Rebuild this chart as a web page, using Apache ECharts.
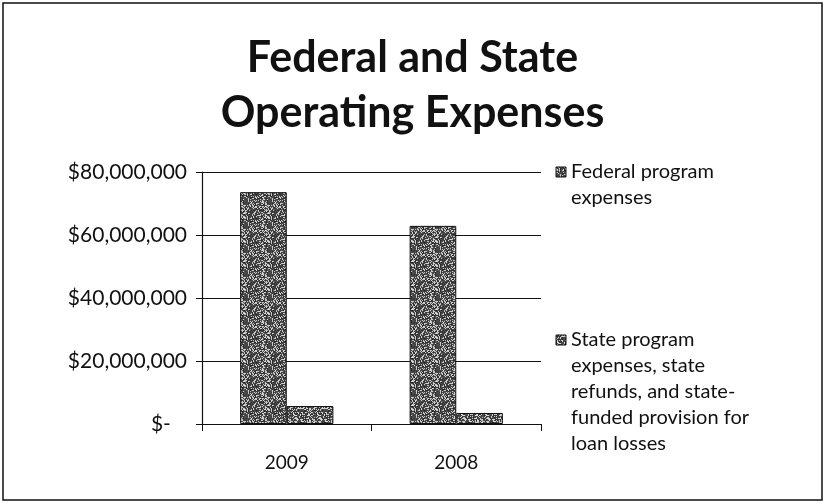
<!DOCTYPE html>
<html>
<head>
<meta charset="utf-8">
<script src="https://cdn.jsdelivr.net/npm/echarts@6/dist/echarts.min.js"></script>
<style>
  html, body { margin: 0; padding: 0; background: #fff; }
  #chart { width: 825px; height: 504px; }
</style>
</head>
<body>
<div id="chart"></div>
<script>
const years = ['2009', '2008'];
const federalExpenses = [73600000, 62900000];
const stateExpenses = [5700000, 3500000];
const seriesNames = ['Federal program expenses', 'State program expenses, state refunds, and state-funded provision for loan losses'];
const legendLines = [
    ['Federal program', 'expenses'],
    ['State program', 'expenses, state', 'refunds, and state-', 'funded provision for', 'loan losses']
];
const titleLines = ['Federal and State', 'Operating Expenses'];

// speckled gray texture, like the photocopied fill
function makeTexture(seed, lightRatio){
    let c = document.createElement('canvas');
    c.width = 24; c.height = 24;
    let ctx = c.getContext('2d');
    let s = seed;
    for(let y = 0; y < 24; y++){
        for(let x = 0; x < 24; x++){
            s = (s * 1103515245 + 12345) & 0x7fffffff;
            let v = (s >> 8) % 100;
            let g = v < lightRatio ? 190 + (v % 50) : 35 + (v % 50);
            ctx.fillStyle = 'rgb(' + g + ',' + g + ',' + g + ')';
            ctx.fillRect(x, y, 1, 1);
        }
    }
    return c;
}
const fedFill = {image: makeTexture(7, 28), repeat: 'repeat'};
const stateFill = {image: makeTexture(13, 34), repeat: 'repeat'};

const font = 'Lato, "Open Sans", sans-serif';
let myChart = echarts.init(document.getElementById('chart'), null, {renderer: 'canvas'});

let graphics = [
    {type: 'rect', shape: {x: 3, y: 3, width: 819, height: 497},
     style: {fill: 'none', stroke: '#111', lineWidth: 1.5}, silent: true},
    {type: 'text', left: 'center', top: 31,
     style: {text: titleLines.join('\n'), font: 'bold 43px ' + font, fill: '#111',
             textAlign: 'center', lineHeight: 55}}
];
let legendTops = [159, 327];
legendLines.forEach((lines, i)=>{
    graphics.push({type: 'rect', shape: {x: 556, y: legendTops[i] + 8, width: 10, height: 10},
                   style: {fill: i === 0 ? fedFill : stateFill, stroke: '#111', lineWidth: 1}});
    graphics.push({type: 'text', x: 571, y: legendTops[i],
                   style: {text: lines.join('\n'), font: '20px ' + font, fill: '#111', lineHeight: 26}});
});

let option = {
    animation: false,
    backgroundColor: '#fff',
    grid: {left: 202, right: 284, top: 172, bottom: 80},
    xAxis: {
        type: 'category',
        data: years,
        axisLine: {lineStyle: {color: '#111', width: 1.2}},
        axisTick: {show: true, length: 7, lineStyle: {color: '#111'}},
        axisLabel: {color: '#111', fontSize: 19, fontFamily: font, margin: 29}
    },
    yAxis: {
        type: 'value',
        min: 0,
        max: 80000000,
        interval: 20000000,
        axisLine: {show: true, lineStyle: {color: '#111', width: 1.2}},
        axisTick: {show: true, length: 6, lineStyle: {color: '#111'}},
        splitLine: {lineStyle: {color: '#111', width: 1}},
        axisLabel: {
            color: '#111', fontSize: 21, fontFamily: font, margin: 15,
            formatter: (v)=> v === 0 ? '$-   ' : '$' + v.toLocaleString('en-US')
        }
    },
    series: [
        {name: seriesNames[0], type: 'bar', data: federalExpenses, barGap: '0%', barCategoryGap: '45%',
         itemStyle: {color: fedFill, borderColor: '#111', borderWidth: 1}},
        {name: seriesNames[1], type: 'bar', data: stateExpenses,
         itemStyle: {color: stateFill, borderColor: '#111', borderWidth: 1}}
    ],
    graphic: graphics
};

myChart.setOption(option);
</script>
</body>
</html>
